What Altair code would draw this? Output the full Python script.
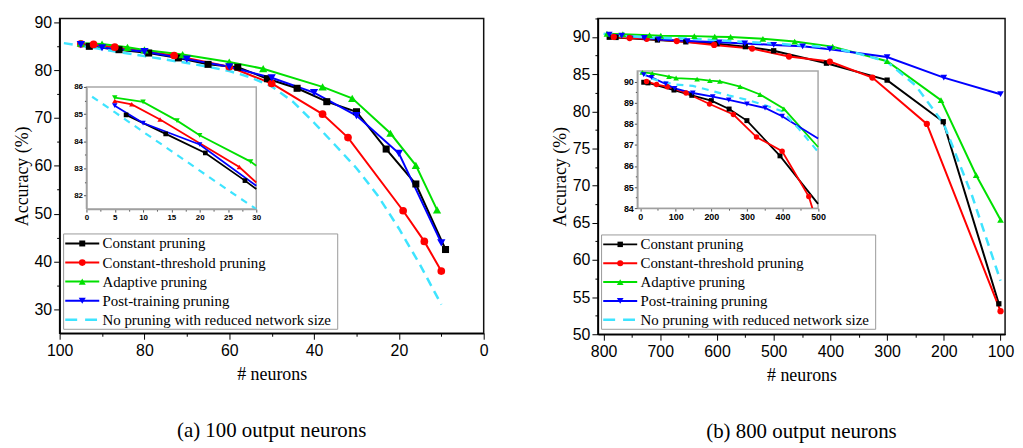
import altair as alt
import pandas as pd

SERIES = ["Constant pruning", "Constant-threshold pruning", "Adaptive pruning",
          "Post-training pruning", "No pruning with reduced network size"]
COLORS = ["#000000", "#ff0000", "#00e000", "#0000ff", "#3ee4ff"]

# ---------------- (a) 100 output neurons : main plot (neurons, accuracy %)
A_CONST_N = [93, 86, 79, 72, 65, 58, 51, 44, 37, 30, 23, 16, 9]
A_CONST_ACC = [84.97, 84.27, 83.57, 82.55, 81.2, 80.6, 78.2, 76.2, 73.4, 71.3, 63.5, 56.2, 42.5]
A_THR_N = [95, 92, 87, 73, 60, 50, 38, 32, 19, 14, 10]
A_THR_ACC = [85.48, 85.36, 84.8, 83.05, 80.7, 77.2, 70.8, 65.9, 50.6, 44.2, 38.0]
A_ADA_N = [95, 90, 84, 80, 71, 60, 52, 38, 31, 22, 16, 11]
A_ADA_ACC = [85.61, 85.45, 84.76, 84.22, 83.25, 81.7, 80.3, 76.5, 74.1, 66.8, 60.1, 50.8]
A_POST_N = [95, 90, 80, 70, 60, 50, 40, 30, 20, 10]
A_POST_ACC = [85.31, 84.67, 83.88, 82.3, 80.7, 78.4, 75.3, 70.5, 62.6, 43.9]
A_NOPR_N = [99, 95, 90, 85, 80, 75, 70, 65, 60, 55, 50, 45, 40, 35, 30, 25, 20, 15, 10]
A_NOPR_ACC = [85.64, 85.07, 84.35, 83.64, 82.92, 82.2, 81.5, 80.7, 79.8, 78.5, 76.6, 73.4,
              69.0, 64.3, 59.5, 53.8, 46.9, 39.3, 31.0]

# (a) inset (x = pruned neurons)
AI_CONST_X = [7, 14, 21, 28]
AI_CONST_Y = [84.97, 84.27, 83.57, 82.55]
AI_THR_X = [5, 8, 13, 27]
AI_THR_Y = [85.48, 85.36, 84.8, 83.05]
AI_ADA_X = [5, 10, 16, 20, 29]
AI_ADA_Y = [85.61, 85.45, 84.76, 84.22, 83.25]
AI_POST_X = [5, 10, 20]
AI_POST_Y = [85.31, 84.67, 83.88]
AI_NOPR_X = [1, 5, 10, 15, 20, 25, 30]
AI_NOPR_Y = [85.64, 85.07, 84.35, 83.64, 82.92, 82.2, 81.5]
AI_EXIT_X = [30, 30, 30, 30]           # where the four solid lines leave the inset
AI_EXIT_Y = [82.24, 82.48, 83.1, 82.36]

# ---------------- (b) 800 output neurons : main plot
B_CONST_N = [790, 778, 705, 655, 600, 550, 500, 407, 300, 201, 103]
B_CONST_ACC = [89.97, 89.94, 89.6, 89.35, 89.1, 88.7, 88.15, 86.48, 84.2, 78.6, 54.1]
B_THR_N = [782, 754, 724, 671, 605, 538, 473, 401, 326, 230, 100]
B_THR_ACC = [90.01, 89.86, 89.76, 89.46, 88.94, 88.44, 87.37, 86.7, 84.55, 78.3, 53.1]
B_ADA_N = [794, 766, 719, 699, 640, 604, 576, 519, 463, 396, 300, 205, 143, 100]
B_ADA_ACC = [90.44, 90.39, 90.24, 90.17, 90.12, 90.05, 90.01, 89.76, 89.39, 88.71, 86.75,
             81.5, 71.4, 65.4]
B_POST_N = [790, 768, 728, 703, 652, 596, 551, 500, 449, 401, 300, 200, 100]
B_POST_ACC = [90.33, 90.2, 89.89, 89.68, 89.46, 89.29, 89.13, 88.94, 88.75, 88.36, 87.3,
              84.53, 82.3]
B_NOPR_N = [800, 770, 720, 700, 650, 600, 550, 500, 450, 400, 350, 300, 250, 200, 150, 100]
B_NOPR_ACC = [90.45, 90.15, 89.95, 89.86, 89.8, 89.57, 89.34, 89.13, 88.87, 88.6, 87.76,
              86.67, 83.5, 78.3, 68.6, 57.2]

# (b) inset (x = pruned neurons)
BI_CONST_X = [10, 22, 95, 145, 200, 250, 300, 393]
BI_CONST_Y = [89.97, 89.94, 89.6, 89.35, 89.1, 88.7, 88.15, 86.48]
BI_THR_X = [18, 46, 76, 129, 195, 262, 327, 399, 474]
BI_THR_Y = [90.01, 89.86, 89.76, 89.46, 88.94, 88.44, 87.37, 86.7, 84.55]
BI_ADA_X = [6, 34, 81, 101, 160, 196, 224, 281, 337, 404]
BI_ADA_Y = [90.44, 90.39, 90.24, 90.17, 90.12, 90.05, 90.01, 89.76, 89.39, 88.71]
BI_POST_X = [10, 32, 72, 97, 148, 204, 249, 300, 351, 399]
BI_POST_Y = [90.33, 90.2, 89.89, 89.68, 89.46, 89.29, 89.13, 88.94, 88.75, 88.36]
BI_NOPR_X = [0, 36, 97, 148, 199, 250, 302, 353, 399, 446, 500]
BI_NOPR_Y = [90.45, 90.12, 89.86, 89.8, 89.57, 89.34, 89.13, 88.87, 88.6, 87.76, 86.67]
BI_EXIT_X = [500, 484, 500, 500]
BI_EXIT_Y = [84.2, 84.0, 86.9, 87.3]

SERIF = "Liberation Serif"
SANS = "Liberation Sans"
SHAPES = ["square", "circle", "triangle-up", "triangle-down"]

# legend layout in its own unit box: x in [0, 1], rows in [0, 5]
LEG_GLYPH = [0.006, 0.13]
LEG_MARK = 0.068
LEG_TEXT = 0.142


def tick_cond(major, big, small):
    return {"condition": {"test": f"datum.value % {major} === 0", "value": big}, "value": small}


def lab(major):
    return f"datum.value % {major} === 0 ? '' + datum.value : ''"


def rows(xs_list, ys_list, xname, yname):
    out = []
    for k, (xs, ys) in enumerate(zip(xs_list, ys_list)):
        for x, y in zip(xs, ys):
            out.append({xname: x, yname: y, "series": SERIES[k]})
    return pd.DataFrame(out)


def outline(xdom, ydom):
    xs = [xdom[0], xdom[1], xdom[1], xdom[0], xdom[0]]
    ys = [ydom[0], ydom[0], ydom[1], ydom[1], ydom[0]]
    return pd.DataFrame({"bx": xs, "by": ys, "o": list(range(5))})


def panel(cfg, main_x, main_y, ins_x, ins_y, exit_x, exit_y, caption):
    cs = alt.Scale(domain=SERIES, range=COLORS)
    xax = alt.Axis(values=cfg["xvals"], labelExpr=lab(cfg["xmaj"]),
                   tickSize=tick_cond(cfg["xmaj"], 6, 3), labelFlush=False, labelPadding=3,
                   titlePadding=8, title="# neurons", labelFont=SANS, labelFontSize=16,
                   titleFont=SERIF, titleFontSize=18, titleFontWeight="normal",
                   domainColor="black", domainWidth=1.5, tickColor="black", labelColor="black",
                   titleColor="black", grid=False)
    yax = alt.Axis(values=cfg["yvals"], labelExpr=lab(cfg["ymaj"]),
                   tickSize=tick_cond(cfg["ymaj"], 6, 3), labelPadding=2,
                   titlePadding=3, title="Accuracy (%)", labelFont=SANS, labelFontSize=16,
                   titleFont=SERIF, titleFontSize=18, titleFontWeight="normal",
                   domainColor="black", domainWidth=1.5, tickColor="black", labelColor="black",
                   titleColor="black", grid=False)
    xs = alt.Scale(domain=cfg["xdom"], range=[cfg["w"], 0], nice=False, zero=False)
    ys = alt.Scale(domain=cfg["ydom"], range=[cfg["h"], 0], nice=False, zero=False)
    mdf = rows(main_x, main_y, "n", "acc")
    col = alt.Color("series:N", scale=cs, legend=None)
    ch = []
    ch.append(alt.Chart(mdf[mdf.series != SERIES[4]]).mark_line(strokeWidth=2).encode(
        x=alt.X("n:Q", scale=xs, axis=xax), y=alt.Y("acc:Q", scale=ys, axis=yax), color=col))
    ch.append(alt.Chart(mdf[mdf.series == SERIES[4]]).mark_line(strokeWidth=2.5, strokeDash=[9, 6]).encode(
        x=alt.X("n:Q", scale=xs, axis=None), y=alt.Y("acc:Q", scale=ys, axis=None), color=col))
    for k in range(4):
        ch.append(alt.Chart(mdf[mdf.series == SERIES[k]]).mark_point(
            filled=True, opacity=1, shape=SHAPES[k], size=cfg["msizes"][k], color=COLORS[k]).encode(
            x=alt.X("n:Q", scale=xs, axis=None), y=alt.Y("acc:Q", scale=ys, axis=None)))

    # ---- inset
    ixs = alt.Scale(domain=cfg["ixdom"], range=cfg["ixrange"], nice=False, zero=False)
    iys = alt.Scale(domain=cfg["iydom"], range=cfg["iyrange"], nice=False, zero=False)
    iax = dict(domainColor="#a0a0a0", domainWidth=1.5, tickColor="#555555", labelFont=SANS,
               labelFontWeight="bold", labelFontSize=cfg["ifs"], labelPadding=1, zindex=1,
               title=None, labelFlush=False, labelColor="black", grid=False)
    xaxis_i = alt.Axis(orient="bottom", offset=cfg["ixoff"], values=cfg["ixvals"],
                       labelExpr=lab(cfg["ixmaj"]), tickSize=tick_cond(cfg["ixmaj"], 3, 2), **iax)
    yaxis_i = alt.Axis(orient="left", offset=cfg["iyoff"], values=cfg["iyvals"],
                       labelExpr=lab(cfg["iymaj"]), tickSize=tick_cond(cfg["iymaj"], 3, 2), **iax)
    idf = rows(ins_x, ins_y, "ix", "iy")
    edf = rows([[x] for x in exit_x], [[y] for y in exit_y], "ix", "iy")
    ipts_df = idf[idf.series != SERIES[4]]
    iline_df = pd.concat([ipts_df, edf], ignore_index=True)
    ch.append(alt.Chart(outline(cfg["ixdom"], cfg["iydom"])).mark_line(
        color="#a8a8a8", strokeWidth=1.5).encode(
        x=alt.X("bx:Q", scale=ixs, axis=None), y=alt.Y("by:Q", scale=iys, axis=None), order="o:Q"))
    ch.append(alt.Chart(iline_df).mark_line(strokeWidth=1.8).encode(
        x=alt.X("ix:Q", scale=ixs, axis=xaxis_i), y=alt.Y("iy:Q", scale=iys, axis=yaxis_i), color=col))
    ch.append(alt.Chart(idf[idf.series == SERIES[4]]).mark_line(strokeWidth=2.2, strokeDash=[7, 6]).encode(
        x=alt.X("ix:Q", scale=ixs, axis=None), y=alt.Y("iy:Q", scale=iys, axis=None), color=col))
    for k in range(4):
        ch.append(alt.Chart(ipts_df[ipts_df.series == SERIES[k]]).mark_point(
            filled=True, opacity=1, shape=cfg["ishapes"][k], size=cfg["isizes"][k], color=COLORS[k]).encode(
            x=alt.X("ix:Q", scale=ixs, axis=None), y=alt.Y("iy:Q", scale=iys, axis=None)))

    # ---- legend (drawn in its own unit box)
    lxs = alt.Scale(domain=[0, 1], range=cfg["lxrange"], nice=False, zero=False)
    lys = alt.Scale(domain=[0, 5], range=cfg["lyrange"], nice=False, zero=False)
    ldf = pd.DataFrame({"series": SERIES, "row": [k + 0.5 for k in range(5)],
                        "g0": LEG_GLYPH[0], "g1": LEG_GLYPH[1], "gm": LEG_MARK, "tx": LEG_TEXT})
    glyph = pd.concat([ldf.assign(gx=ldf.g0), ldf.assign(gx=ldf.g1)], ignore_index=True)
    LX = lambda f: alt.X(f, scale=lxs, axis=None)
    LY = lambda f: alt.Y(f, scale=lys, axis=None)
    ch.append(alt.Chart(outline([0, 1], [0, 5])).mark_line(color="#9a9a9a", strokeWidth=1).encode(
        x=LX("bx:Q"), y=LY("by:Q"), order="o:Q"))
    ch.append(alt.Chart(glyph[glyph.series != SERIES[4]]).mark_line(strokeWidth=2).encode(
        x=LX("gx:Q"), y=LY("row:Q"), color=col))
    ch.append(alt.Chart(glyph[glyph.series == SERIES[4]]).mark_line(strokeWidth=2.5, strokeDash=[12, 8]).encode(
        x=LX("gx:Q"), y=LY("row:Q"), color=col))
    for k in range(4):
        ch.append(alt.Chart(ldf[ldf.series == SERIES[k]]).mark_point(
            filled=True, opacity=1, shape=SHAPES[k], size=cfg["lsizes"][k], color=COLORS[k]).encode(
            x=LX("gm:Q"), y=LY("row:Q")))
    ch.append(alt.Chart(ldf).mark_text(align="left", baseline="middle", font=SERIF, fontSize=15,
                                       color="black").encode(
        x=LX("tx:Q"), y=LY("row:Q"), text="series:N"))

    return alt.layer(*ch).resolve_scale(x="independent", y="independent").properties(
        width=cfg["w"], height=cfg["h"],
        title=alt.TitleParams(caption, orient="bottom", font=SERIF, fontSize=21,
                              fontWeight="normal", offset=36, anchor="middle", color="black"))


A_CFG = dict(w=427, h=317, xdom=[0, 100], ydom=[25, 90.8],
             xvals=list(range(0, 101, 10)), xmaj=20, yvals=list(range(30, 91, 5)), ymaj=10,
             msizes=[50, 60, 70, 70],
             ixdom=[0, 30], iydom=[81.5, 86], ixrange=[27, 198], iyrange=[192, 69],
             ixoff=-125, iyoff=-27, ixvals=[i * 2.5 for i in range(13)], ixmaj=5,
             iyvals=[82 + i * 0.5 for i in range(9)], iymaj=1, ifs=8,
             ishapes=["square", "triangle-up", "triangle-down", "triangle-down"],
             isizes=[22, 28, 30, 30],
             lxrange=[4, 280], lyrange=[217, 313], lsizes=[36, 45, 50, 50])
B_CFG = dict(w=410, h=318, xdom=[92, 810], ydom=[50, 92.5],
             xvals=list(range(100, 801, 50)), xmaj=100, yvals=[50 + i * 2.5 for i in range(18)], ymaj=5,
             msizes=[28, 40, 45, 45],
             ixdom=[-8, 500], iydom=[84, 90.5], ixrange=[39.7, 221.7], iyrange=[191, 53],
             ixoff=-127, iyoff=-39.7, ixvals=list(range(0, 501, 50)), ixmaj=100,
             iyvals=[84 + i * 0.5 for i in range(13)], iymaj=1, ifs=9,
             ishapes=["square", "circle", "triangle-up", "triangle-down"],
             isizes=[25, 30, 32, 32],
             lxrange=[3.7, 279.7], lyrange=[218, 313], lsizes=[30, 38, 45, 45])

pa = panel(A_CFG, [A_CONST_N, A_THR_N, A_ADA_N, A_POST_N, A_NOPR_N],
           [A_CONST_ACC, A_THR_ACC, A_ADA_ACC, A_POST_ACC, A_NOPR_ACC],
           [AI_CONST_X, AI_THR_X, AI_ADA_X, AI_POST_X, AI_NOPR_X],
           [AI_CONST_Y, AI_THR_Y, AI_ADA_Y, AI_POST_Y, AI_NOPR_Y],
           AI_EXIT_X, AI_EXIT_Y, "(a) 100 output neurons")
pb = panel(B_CFG, [B_CONST_N, B_THR_N, B_ADA_N, B_POST_N, B_NOPR_N],
           [B_CONST_ACC, B_THR_ACC, B_ADA_ACC, B_POST_ACC, B_NOPR_ACC],
           [BI_CONST_X, BI_THR_X, BI_ADA_X, BI_POST_X, BI_NOPR_X],
           [BI_CONST_Y, BI_THR_Y, BI_ADA_Y, BI_POST_Y, BI_NOPR_Y],
           BI_EXIT_X, BI_EXIT_Y, "(b) 800 output neurons")

chart = alt.hconcat(pa, pb, spacing=61).properties(
    padding={"left": 4, "top": 4, "right": 0, "bottom": 0}
).configure_view(stroke="#111111", strokeWidth=1.5).configure_axis(
    titleFont=SERIF, titleFontSize=18, titleFontWeight="normal")

chart.save("out.html", embed_options={"renderer": "svg", "actions": False})
